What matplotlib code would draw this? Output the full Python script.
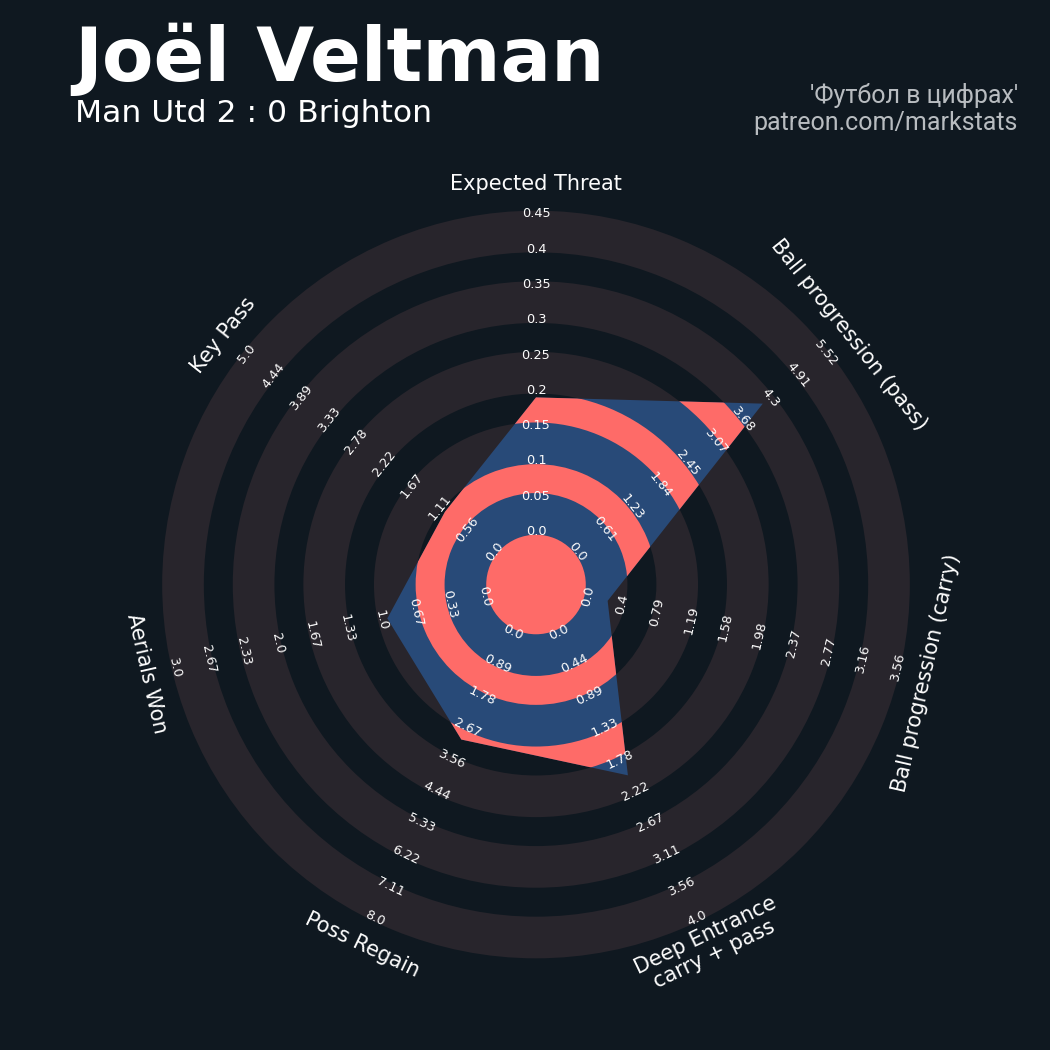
import numpy as np
import matplotlib
matplotlib.use('Agg')
import matplotlib.pyplot as plt
from matplotlib.patches import Wedge, Polygon

# donnees du radar
params = ['Expected Threat', 'Ball progression (pass)', 'Ball progression (carry)',
          'Deep Entrance\ncarry + pass', 'Poss Regain', 'Aerials Won', 'Key Pass']
low = [0, 0, 0, 0, 0, 0, 0]
high = [0.45, 5.52, 3.56, 4.0, 8.0, 3.0, 5.0]
values = [0.19, 4.12, 0.23, 2.0, 3.0, 0.94, 1.0]
tick_labels = [
    ['0.0', '0.05', '0.1', '0.15', '0.2', '0.25', '0.3', '0.35', '0.4', '0.45'],
    ['0.0', '0.61', '1.23', '1.84', '2.45', '3.07', '3.68', '4.3', '4.91', '5.52'],
    ['0.0', '0.4', '0.79', '1.19', '1.58', '1.98', '2.37', '2.77', '3.16', '3.56'],
    ['0.0', '0.44', '0.89', '1.33', '1.78', '2.22', '2.67', '3.11', '3.56', '4.0'],
    ['0.0', '0.89', '1.78', '2.67', '3.56', '4.44', '5.33', '6.22', '7.11', '8.0'],
    ['0.0', '0.33', '0.67', '1.0', '1.33', '1.67', '2.0', '2.33', '2.67', '3.0'],
    ['0.0', '0.56', '1.11', '1.67', '2.22', '2.78', '3.33', '3.89', '4.44', '5.0'],
]

bg = '#0f1820'
grey = '#28252c'
blue = '#284a78'
pink = '#fe6b68'

c = 1.5      # rayon du cercle central
w = 1.0      # largeur d'un anneau
n_rings = 9
e = 0.09     # les anneaux gris debordent un peu
r_max = c + n_rings * w

fig = plt.figure(figsize=(10.5, 10.5), dpi=100, facecolor=bg)
ax = fig.add_axes([0, 0, 1, 1])
ax.set_facecolor(bg)
unit = 35.3
ax.set_xlim(-536 / unit, (1050 - 536) / unit)
ax.set_ylim(-(1050 - 584.5) / unit, 584.5 / unit)
ax.set_aspect('equal')
ax.axis('off')

# anneaux gris du fond
for k in range(0, n_rings, 2):
    r_in = c + k * w - e
    r_out = c + (k + 1) * w + e
    ax.add_patch(Wedge((0, 0), r_out, 0, 360, width=r_out - r_in, facecolor=grey, edgecolor='none', zorder=1))

n = len(params)
angles = np.deg2rad(90 - np.arange(n) * 360 / n)

# polygone
rad = [c + (v - lo) / (hi - lo) * n_rings * w for v, lo, hi in zip(values, low, high)]
pts = np.column_stack([np.cos(angles) * rad, np.sin(angles) * rad])
poly = Polygon(pts, closed=True, facecolor=blue, edgecolor='none', zorder=2)
ax.add_patch(poly)

# anneaux roses dans le polygone
centre = Wedge((0, 0), c - e, 0, 360, facecolor=pink, edgecolor='none', zorder=3)
centre.set_clip_path(poly)
ax.add_patch(centre)
for k in range(1, n_rings, 2):
    r_in = c + k * w + e
    r_out = c + (k + 1) * w - e
    ring = Wedge((0, 0), r_out, 0, 360, width=r_out - r_in, facecolor=pink, edgecolor='none', zorder=3)
    ring.set_clip_path(poly)
    ax.add_patch(ring)

# etiquettes
for i in range(n):
    rot = -i * 360 / n
    while rot <= -90:
        rot += 180
    while rot > 90:
        rot -= 180
    ca, sa = np.cos(angles[i]), np.sin(angles[i])
    for k, lab in enumerate(tick_labels[i]):
        r = c + k * w
        ax.text(r * ca, r * sa, lab, rotation=rot, ha='center', va='center',
                fontsize=9.3, color='#fcfcfc', zorder=5, rotation_mode='anchor')
    rp = 400 / unit
    ax.text(rp * ca, rp * sa, params[i], rotation=rot, ha='center', va='center',
            fontsize=15, color='#fcfcfc', zorder=5, rotation_mode='anchor', linespacing=1.0)

fig.text(0.071, 0.923, 'Joël Veltman', fontsize=54, fontweight='bold', color='white', va='baseline')
fig.text(0.071, 0.884, 'Man Utd 2 : 0 Brighton', fontsize=22.6, color='white', va='baseline')
fig.text(0.9695, 0.902, "'Футбол в цифрах'", fontsize=18, color='#b8bcc0', ha='right', va='baseline', family='Roboto')
fig.text(0.9695, 0.876, 'patreon.com/markstats', fontsize=18, color='#b8bcc0', ha='right', va='baseline', family='Roboto')

fig.savefig('out.png', dpi=100, facecolor=bg)
